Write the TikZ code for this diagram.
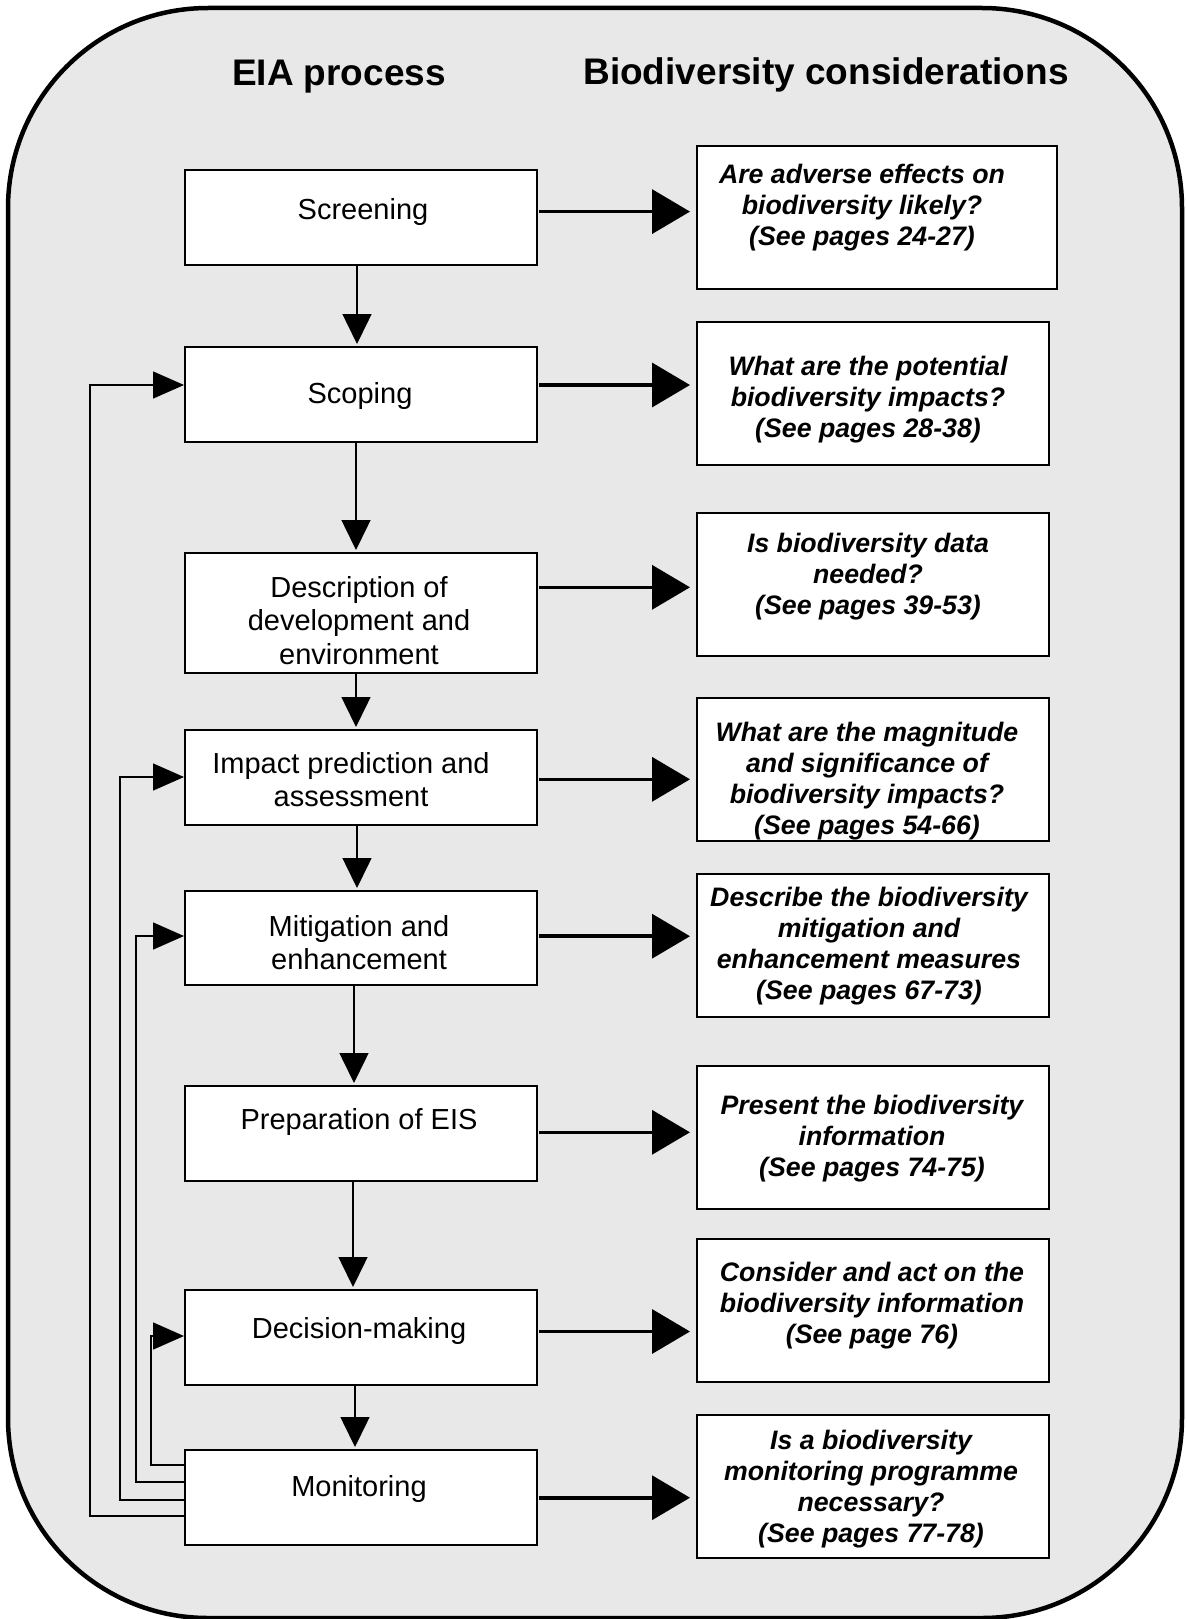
\documentclass[tikz,border=0pt]{standalone}
\usepackage{fontspec}
\setmainfont{Liberation Sans}
\usetikzlibrary{arrows.meta,calc}
\definecolor{bgray}{RGB}{232,232,232}
\begin{document}
\begin{tikzpicture}[x=1pt,y=-1pt,
  lbox/.style={draw=black,line width=1.6pt,fill=white,minimum width=352pt,inner sep=0pt,anchor=north west},
  rbox/.style={draw=black,line width=1.6pt,fill=white,minimum width=352pt,minimum height=143pt,inner sep=0pt,anchor=north west},
  ltext/.style={align=center,inner sep=0pt,font=\fontsize{29}{33.5}\selectfont},
  rtext/.style={align=center,inner sep=0pt,font=\fontsize{26.7}{31}\selectfont\bfseries\itshape},
  htext/.style={inner sep=0pt,font=\fontsize{37}{44}\selectfont\bfseries},
  bigarr/.style={line width=3.6pt,-{Triangle[length=38pt,width=44pt]},shorten <=1.5pt,shorten >=6pt},
  downarr/.style={line width=1.5pt,-{Triangle[length=30pt,width=29pt]},shorten >=2pt},
  fbarr/.style={line width=1.5pt,-{Triangle[length=31pt,width=27pt]}}
]
\useasboundingbox (0,0) rectangle (1186,1619);
% outer panel
\draw[line width=4.5pt,fill=bgray,rounded corners=200pt] (8,8) rectangle (1182,1618);

% headers
\node[htext] (h1) at (339,77) {EIA process};
\node[htext] (h2) at (826,75) {Biodiversity considerations};

% left boxes
\node[lbox,minimum height=95pt] (S1) at (184,169) {};
\node[lbox,minimum height=95pt] (S2) at (184,346) {};
\node[lbox,minimum height=120pt] (S3) at (184,552) {};
\node[lbox,minimum height=95pt] (S4) at (184,729) {};
\node[lbox,minimum height=94pt] (S5) at (184,890) {};
\node[lbox,minimum height=95pt] (S6) at (184,1085) {};
\node[lbox,minimum height=95pt] (S7) at (184,1289) {};
\node[lbox,minimum height=95pt] (S8) at (184,1449) {};

\node[ltext] (L1) at (363,212) {Screening};
\node[ltext] (L2) at (360,395.5) {Scoping};
\node[ltext] (L3) at (359,620.5) {Description of\\development and\\environment};
\node[ltext] (L4) at (351,779.5) {Impact prediction and\\assessment};
\node[ltext] (L5) at (359,942.5) {Mitigation and\\enhancement};
\node[ltext] (L6) at (359,1121.5) {Preparation of EIS};
\node[ltext] (L7) at (359,1330.5) {Decision-making};
\node[ltext] (L8) at (359,1488.5) {Monitoring};

% right boxes
\node[rbox,minimum width=360pt] (R1) at (696,145) {};
\node[rbox] (R2) at (696,321) {};
\node[rbox] (R3) at (696,512) {};
\node[rbox] (R4) at (696,697) {};
\node[rbox] (R5) at (696,873) {};
\node[rbox] (R6) at (696,1065) {};
\node[rbox] (R7) at (696,1238) {};
\node[rbox] (R8) at (696,1414) {};

\node[rtext] (Q1) at (862,207.5) {Are adverse effects on\\biodiversity likely?\\(See pages 24-27)};
\node[rtext] (Q2) at (868,399.5) {What are the potential\\biodiversity impacts?\\(See pages 28-38)};
\node[rtext] (Q3) at (868,576.5) {Is biodiversity data\\needed?\\(See pages 39-53)};
\node[rtext] (Q4) at (867,781.5) {What are the magnitude\\and significance of\\biodiversity impacts?\\(See pages 54-66)};
\node[rtext] (Q5) at (869,946.5) {Describe the biodiversity\\mitigation and\\enhancement measures\\(See pages 67-73)};
\node[rtext] (Q6) at (872,1139) {Present the biodiversity\\information\\(See pages 74-75)};
\node[rtext] (Q7) at (872,1305.5) {Consider and act on the\\biodiversity information\\(See page 76)};
\node[rtext] (Q8) at (871,1489.5) {Is a biodiversity\\monitoring programme\\necessary?\\(See pages 77-78)};

% horizontal arrows
\draw[bigarr] (S1.east |- 0,211.6) -- (R1.west |- 0,211.6);
\draw[bigarr] (S2.east |- 0,385) -- (R2.west |- 0,385);
\draw[bigarr] (S3.east |- 0,587.3) -- (R3.west |- 0,587.3);
\draw[bigarr] (S4.east |- 0,779.3) -- (R4.west |- 0,779.3);
\draw[bigarr] (S5.east |- 0,936.2) -- (R5.west |- 0,936.2);
\draw[bigarr] (S6.east |- 0,1132.3) -- (R6.west |- 0,1132.3);
\draw[bigarr] (S7.east |- 0,1331.5) -- (R7.west |- 0,1331.5);
\draw[bigarr] (S8.east |- 0,1497.7) -- (R8.west |- 0,1497.7);

% down arrows
\draw[downarr] (S1.south -| 357,0) -- (S2.north -| 357,0);
\draw[downarr] (S2.south -| 356,0) -- (S3.north -| 356,0);
\draw[downarr] (S3.south -| 356,0) -- (S4.north -| 356,0);
\draw[downarr] (S4.south -| 357,0) -- (S5.north -| 357,0);
\draw[downarr] (S5.south -| 354,0) -- (S6.north -| 354,0);
\draw[downarr] (S6.south -| 353,0) -- (S7.north -| 353,0);
\draw[downarr] (S7.south -| 355,0) -- (S8.north -| 355,0);

% feedback loops
\draw[fbarr] (S8.west |- 0,1516) -- ++(-94,0) |- (S2.west |- 0,385);
\draw[fbarr] (S8.west |- 0,1500) -- ++(-64,0) |- (S4.west |- 0,777);
\draw[fbarr] (S8.west |- 0,1482) -- ++(-48,0) |- (S5.west |- 0,936);
\draw[fbarr] (S8.west |- 0,1465) -- ++(-33,0) |- (S7.west |- 0,1336);
\end{tikzpicture}
\end{document}
